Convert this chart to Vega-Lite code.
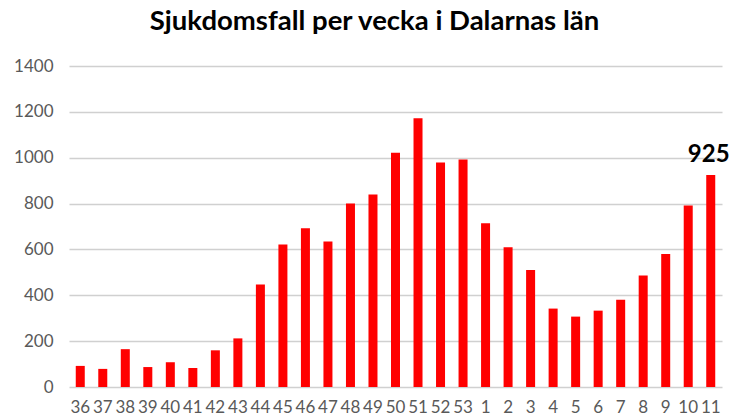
{
  "$schema": "https://vega.github.io/schema/vega-lite/v6.json",
  "autosize": {"type": "none"},
  "width": 653,
  "height": 321,
  "padding": {"left": 69, "top": 66, "right": 24, "bottom": 32},
  "background": "white",
  "title": {
    "text": "Sjukdomsfall per vecka i Dalarnas län",
    "font": "Lato",
    "fontSize": 27.5,
    "fontWeight": "bold",
    "color": "#000000",
    "anchor": "middle",
    "frame": "group",
    "offset": 22,
    "dx": -21
  },
  "data": {
    "values": [
      {"vecka": "36", "fall": 92},
      {"vecka": "37", "fall": 79},
      {"vecka": "38", "fall": 165},
      {"vecka": "39", "fall": 87},
      {"vecka": "40", "fall": 108},
      {"vecka": "41", "fall": 83},
      {"vecka": "42", "fall": 160},
      {"vecka": "43", "fall": 212},
      {"vecka": "44", "fall": 447},
      {"vecka": "45", "fall": 622},
      {"vecka": "46", "fall": 692},
      {"vecka": "47", "fall": 635},
      {"vecka": "48", "fall": 800},
      {"vecka": "49", "fall": 840},
      {"vecka": "50", "fall": 1022},
      {"vecka": "51", "fall": 1172},
      {"vecka": "52", "fall": 979},
      {"vecka": "53", "fall": 992},
      {"vecka": "1", "fall": 714},
      {"vecka": "2", "fall": 609},
      {"vecka": "3", "fall": 510},
      {"vecka": "4", "fall": 342},
      {"vecka": "5", "fall": 307},
      {"vecka": "6", "fall": 333},
      {"vecka": "7", "fall": 381},
      {"vecka": "8", "fall": 486},
      {"vecka": "9", "fall": 580},
      {"vecka": "10", "fall": 792},
      {"vecka": "11", "fall": 925}
    ]
  },
  "encoding": {
    "x": {
      "field": "vecka",
      "type": "nominal",
      "sort": null,
      "scale": {"paddingInner": 0.6, "paddingOuter": 0.3},
      "axis": {
        "title": null,
        "labelAngle": 0,
        "labelFont": "Lato",
        "labelFontSize": 17,
        "labelColor": "#595959",
        "labelPadding": 12,
        "ticks": false,
        "domain": false
      }
    },
    "y": {
      "field": "fall",
      "type": "quantitative",
      "scale": {"domain": [0, 1400], "nice": false},
      "axis": {
        "title": null,
        "format": "d",
        "values": [0, 200, 400, 600, 800, 1000, 1200, 1400],
        "labelFont": "Lato",
        "labelFontSize": 17,
        "labelColor": "#595959",
        "labelPadding": 16,
        "ticks": false,
        "domain": false,
        "grid": true,
        "gridColor": "#d0d0d0",
        "gridWidth": 1.3
      }
    }
  },
  "layer": [
    {"mark": {"type": "bar", "color": "#ff0000"}},
    {
      "transform": [{"filter": "datum.vecka == '11'"}],
      "mark": {"type": "text", "font": "Lato", "fontSize": 24, "fontWeight": "bold", "color": "#000000", "baseline": "alphabetic", "dy": -13, "dx": -2},
      "encoding": {"text": {"field": "fall", "type": "quantitative"}}
    }
  ],
  "config": {"view": {"stroke": null}}
}
